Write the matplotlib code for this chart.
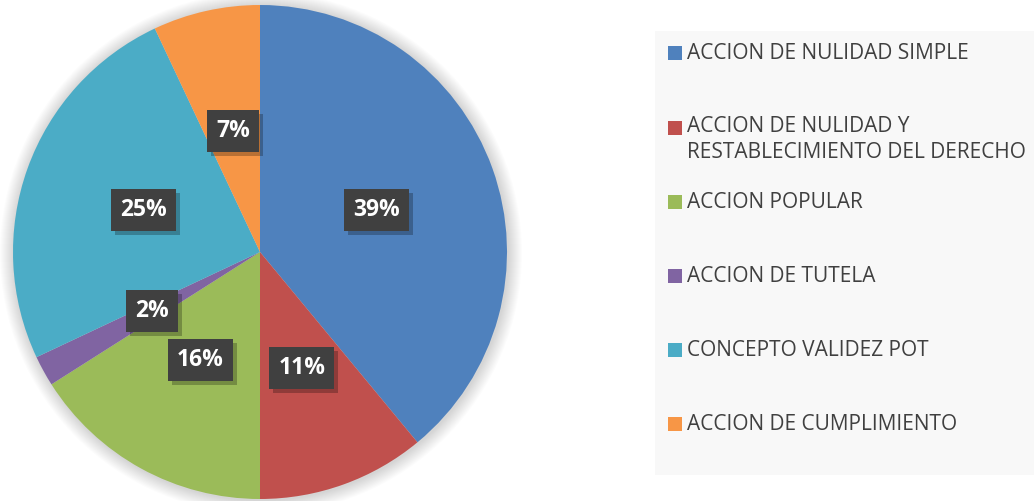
import matplotlib
matplotlib.use("Agg")
import matplotlib.pyplot as plt
from matplotlib.patches import Rectangle, Circle

categories = ["ACCION DE NULIDAD SIMPLE",
              "ACCION DE NULIDAD Y\nRESTABLECIMIENTO DEL DERECHO",
              "ACCION POPULAR",
              "ACCION DE TUTELA",
              "CONCEPTO VALIDEZ POT",
              "ACCION DE CUMPLIMIENTO"]
values = [39, 11, 16, 2, 25, 7]
colors = ["#4F81BD", "#C0504D", "#9BBB59", "#8064A2", "#4BACC6", "#F79646"]

W, H = 1034, 501
fig = plt.figure(figsize=(W / 100, H / 100), dpi=100)
fig.patch.set_facecolor("white")
ax = fig.add_axes([0, 0, 1, 1])

cx, cy, r = 260, H - 252, 247

# soft shadow
for k in range(14, 0, -1):
    ax.add_patch(Circle((cx + 1, cy - 1), r + k, color="black", alpha=0.012, lw=0, zorder=0))

wedges, texts, autotexts = ax.pie(values, colors=colors, startangle=90, counterclock=False,
                                  center=(cx, cy), radius=r, autopct="%d%%", pctdistance=0.5,
                                  wedgeprops=dict(linewidth=0),
                                  textprops=dict(color="white", fontsize=16.5, fontweight="bold",
                                                 family="Open Sans"))
ax.set_xlim(0, W)
ax.set_ylim(0, H)
ax.set_aspect("equal")
ax.axis("off")

fig.canvas.draw()
renderer = fig.canvas.get_renderer()
for t in autotexts:
    t.set_zorder(6)
    t.set_va("center")
    t.set_ha("center")
fig.canvas.draw()
for t in autotexts:
    bb = t.get_window_extent(renderer)
    x, y = t.get_position()
    w = bb.width + 18
    h = 42
    ax.add_patch(Rectangle((x - w / 2 + 4, y - h / 2 - 4), w, h, color="black", alpha=0.25, lw=0, zorder=4))
    ax.add_patch(Rectangle((x - w / 2, y - h / 2), w, h, color="#404040", lw=0, zorder=5))

# legend box
ax.add_patch(Rectangle((655, H - 475), 390, 444, color="#F8F8F8", lw=0, zorder=1))
rows = [53, 128, 202, 276, 350, 424]
for cat, col, ry in zip(categories, colors, rows):
    ax.add_patch(Rectangle((668, H - ry - 7), 14, 14, color=col, lw=0, zorder=2))
    multi = "\n" in cat
    ax.text(687, H - ry + (12 if multi else 0), cat, fontsize=15, color="#404040", family="Open Sans",
            va="top" if multi else "center", ha="left", linespacing=1.3, zorder=3)

fig.savefig("out.png", dpi=100)
